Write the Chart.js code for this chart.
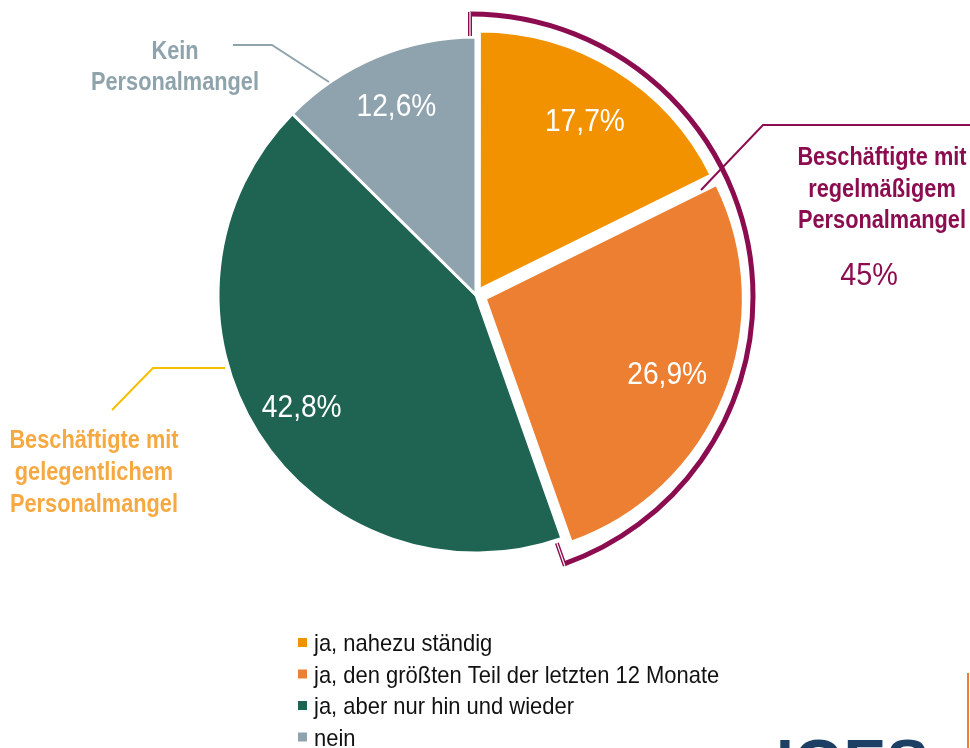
<!DOCTYPE html>
<html lang="de">
<head>
<meta charset="UTF-8" />
<title>Personalmangel</title>
<script src="https://cdn.jsdelivr.net/npm/chart.js"></script>
<style>
  html, body { margin: 0; padding: 0; background: #fff; }
  canvas { display: block; }
</style>
</head>
<body>
<canvas id="pieChart" width="970" height="748"></canvas>
<script>
  const categories = ["ja, nahezu ständig", "ja, den größten Teil der letzten 12 Monate", "ja, aber nur hin und wieder", "nein"];
  const shares = [17.7, 26.9, 42.8, 12.6];
  const valueLabels = ["17,7%", "26,9%", "42,8%", "12,6%"];
  const sliceColors = ["#f39200", "#ec7f31", "#1f6452", "#8fa3ae"];
  // Chart.js moves an arc by about offset/4, so these give ~7 and ~10 px
  const explode = [25, 40, 0, 0];
  const regularLabel = ["Beschäftigte mit", "regelmäßigem", "Personalmangel"];
  const regularShare = "45%";
  const occasionalLabel = ["Beschäftigte mit", "gelegentlichem", "Personalmangel"];
  const noneLabel = ["Kein", "Personalmangel"];

  const PURPLE = "#8c0d4f";
  const FONT = "'Liberation Sans', Arial, sans-serif";

  // text is squeezed a bit, the original uses a narrow Arial
  function narrowText(ctx, text, x, y, font, color, align, sx) {
    ctx.save();
    ctx.font = font;
    ctx.fillStyle = color;
    ctx.textAlign = align;
    ctx.textBaseline = "alphabetic";
    ctx.translate(x, y);
    ctx.scale(sx, 1);
    ctx.fillText(text, 0, 0);
    ctx.restore();
  }

  function line(ctx, pts, color, width) {
    ctx.save();
    ctx.strokeStyle = color;
    ctx.lineWidth = width;
    ctx.beginPath();
    ctx.moveTo(pts[0][0], pts[0][1]);
    for (let i = 1; i < pts.length; i++) ctx.lineTo(pts[i][0], pts[i][1]);
    ctx.stroke();
    ctx.restore();
  }

  const decorations = {
    id: "decorations",
    afterDatasetsDraw(chart) {
      const ctx = chart.ctx;
      const meta = chart.getDatasetMeta(0);
      const first = meta.data[0].getProps(["x", "y", "outerRadius"], true);
      const cx = first.x, cy = first.y, R = first.outerRadius;

      // value labels inside the slices
      meta.data.forEach((arc, i) => {
        const p = arc.getProps(["x", "y", "startAngle", "endAngle", "outerRadius"], true);
        const mid = (p.startAngle + p.endAngle) / 2;
        const r = p.outerRadius * 0.8;
        narrowText(ctx, valueLabels[i], p.x + Math.cos(mid) * r, p.y + Math.sin(mid) * r + 11,
          "32px " + FONT, "#ffffff", "center", 0.88);
      });

      // bracket round the two "ja" slices with regular shortage
      // (drawn a little left of the pie centre, like the original shape)
      const a0 = meta.data[0].startAngle;
      const a1 = meta.data[1].endAngle;
      const bx = cx - 6, by = cy + 2, RB = R + 25;
      ctx.save();
      ctx.strokeStyle = PURPLE;
      ctx.lineWidth = 5;
      ctx.beginPath();
      ctx.arc(bx, by, RB, a0, a1);
      ctx.stroke();
      [a0, a1].forEach(a => {
        const p1 = [bx + Math.cos(a) * (RB + 2), by + Math.sin(a) * (RB + 2)];
        const p2 = [bx + Math.cos(a) * (RB - 22), by + Math.sin(a) * (RB - 22)];
        line(ctx, [p1, p2], PURPLE, 4);
        line(ctx, [p1, p2], "#ffffff", 1.2);
      });
      ctx.restore();

      // leader lines
      line(ctx, [[233, 45], [272, 45], [329, 82]], "#8fa3ad", 2);
      line(ctx, [[970, 125], [763, 125], [701, 190]], PURPLE, 2);
      line(ctx, [[225, 368], [153, 368], [112, 410]], "#f5bf00", 2);

      // annotation texts
      const bold = "bold 25px " + FONT;
      noneLabel.forEach((t, i) => narrowText(ctx, t, 175, 59 + i * 31, bold, "#8fa3ad", "center", 0.87));
      regularLabel.forEach((t, i) => narrowText(ctx, t, 882, 165 + i * 31.5, bold, PURPLE, "center", 0.87));
      narrowText(ctx, regularShare, 869, 285, "32px " + FONT, PURPLE, "center", 0.9);
      occasionalLabel.forEach((t, i) => narrowText(ctx, t, 94, 448 + i * 32, bold, "#f7a941", "center", 0.87));

      // legend, one item per row
      categories.forEach((c, i) => {
        const y = 643 + i * 31.5;
        ctx.fillStyle = sliceColors[i];
        ctx.fillRect(298, y - 5, 9, 9);
        narrowText(ctx, c, 314, y + 8, "24px " + FONT, "#111111", "left", 0.915);
      });

      // logo, cut by the bottom edge
      ctx.save();
      ctx.fillStyle = "#1c3f63";
      ctx.font = "bold 64px " + FONT;
      ctx.textAlign = "left";
      ctx.fillText("IGES", 776, 785);
      ctx.restore();
      line(ctx, [[968, 673], [968, 748]], "#ec7f31", 2);
    }
  };

  const ctx = document.getElementById("pieChart").getContext("2d");
  const chart = new Chart(ctx, {
    type: "pie",
    data: {
      labels: categories,
      datasets: [{
        data: shares,
        backgroundColor: sliceColors,
        borderColor: "#ffffff",
        borderWidth: 3,
        offset: explode,
        radius: 258
      }]
    },
    options: {
      responsive: false,
      animation: false,
      layout: { padding: { left: 200, right: 218, top: 30, bottom: 188 } },
      plugins: {
        legend: { display: false },
        tooltip: { enabled: false }
      }
    },
    plugins: [decorations]
  });
</script>
</body>
</html>
